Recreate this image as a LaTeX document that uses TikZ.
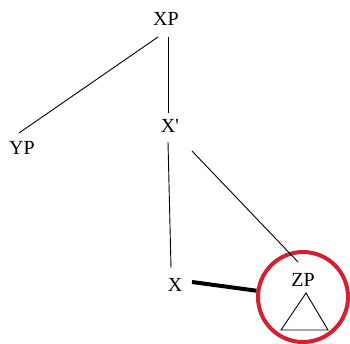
\documentclass[tikz,border=0pt]{standalone}
\usepackage{fontspec}
\setmainfont{Liberation Serif}
\definecolor{ringred}{RGB}{212,32,48}
\begin{document}
\begin{tikzpicture}[x=1pt,y=-1pt,
  lbl/.style={inner sep=0pt,font=\fontsize{20}{24}\selectfont},
  edge/.style={line width=0.9pt,black}]
\useasboundingbox[fill=white] (0,0) rectangle (350,344);
\node[lbl] (XP) at (166,19) {XP};
\node[lbl] (YP) at (22,148) {YP};
\node[lbl] (Xp) at (170,126) {X\textquotesingle};
\node[lbl] (X) at (175,285) {X};
\node[lbl] (ZP) at (303,280) {ZP};
\node[circle,draw=ringred,line width=4pt,minimum size=90pt,inner sep=0pt] (circ) at (303,297) {};
\draw[edge] ([shift={(-8,18)}]XP.center) -- ([shift={(-3,-15)}]YP.center);
\draw[edge] ([shift={(2,18)}]XP.center) -- ([shift={(-2,-13)}]Xp.center);
\draw[edge] ([shift={(-2,16)}]Xp.center) -- ([shift={(-4,-17)}]X.center);
\draw[edge] ([shift={(22,25)}]Xp.center) -- ([shift={(-5,-18)}]ZP.center);
\draw[line width=4pt] ([shift={(17,-3)}]X.center) -- (circ);
\draw[edge] ([shift={(3,-4)}]circ.center) -- ([shift={(-22,33)}]circ.center) -- ([shift={(25,33)}]circ.center) -- cycle;
\end{tikzpicture}
\end{document}
